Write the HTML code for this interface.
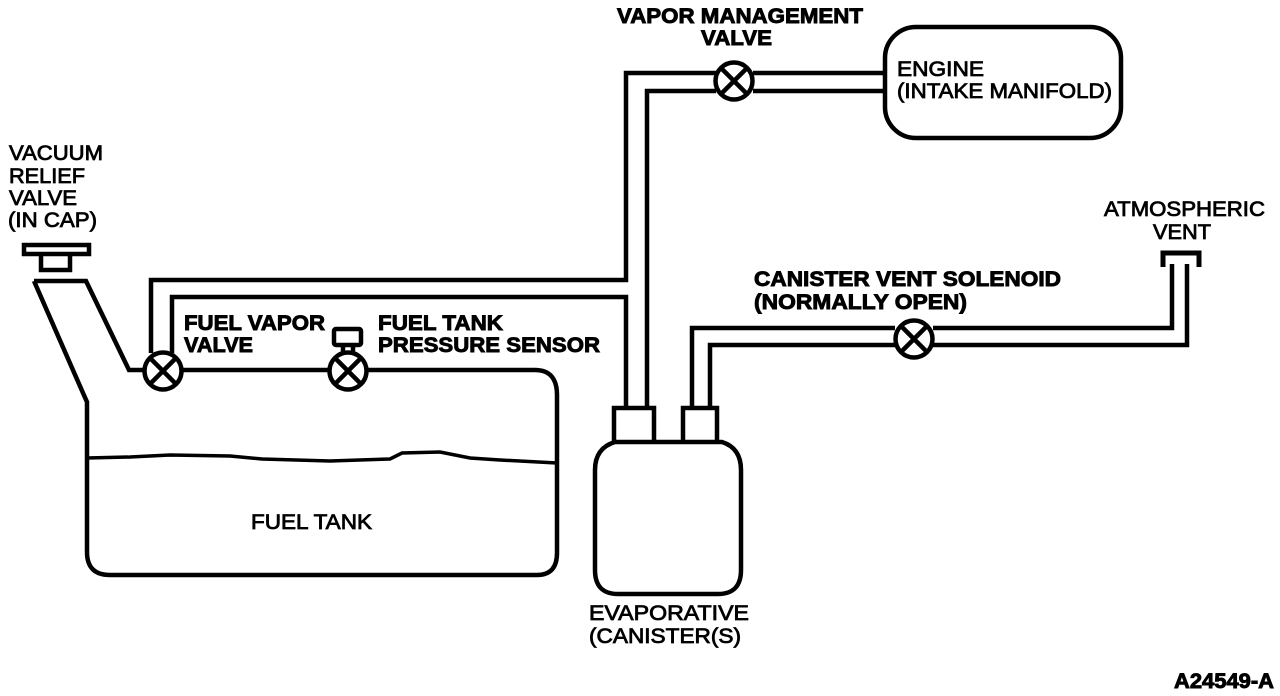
<!DOCTYPE html>
<html><head><meta charset="utf-8"><style>
html,body{margin:0;padding:0;background:#fff;width:1280px;height:696px;overflow:hidden}
svg{display:block}
text{font-family:"Liberation Sans",sans-serif;font-size:21px;fill:#000;stroke:#000;stroke-width:.8px}
.b{font-weight:bold;stroke-width:.9px}
</style></head><body>
<svg width="1280" height="696" viewBox="0 0 1280 696" xmlns="http://www.w3.org/2000/svg">
<g fill="none" stroke="#000" stroke-width="4.5">
<path d="M24 245H89V254H24Z" stroke-width="4.5"/>
<path d="M41 255V270H70V255"/>
<path d="M34 281H86L129 370H145"/>
<path d="M34 281L83 393L87 402V552Q87 575 110 575H537Q557 575 557 553V395Q557 370 535 370H368"/>
<path d="M87 458L130 457L170 455L230 456L262 459L330 461L390 459L402 453L440 452L470 458L500 460L557 463" stroke-width="3.5"/>
<path d="M151 353V280H626V73H716"/>
<path d="M172 353V297H626V408" />
<path d="M647 408V91H716"/>
<path d="M753 73H886"/>
<path d="M753 91H886"/>
<path d="M181 370H329"/>
<rect x="885" y="27" width="236" height="111" rx="31" ry="31"/>
<path d="M614 442V408H654V442"/>
<path d="M683 442V408H717V442"/>
<path d="M615 442H722Q741 448 741 470V570Q741 594 718 594H618Q595 594 595 570V470Q595 448 615 442Z"/>
<path d="M692 408V328H895"/>
<path d="M710 408V345H895"/>
<path d="M933 328H1172V264"/>
<path d="M933 345H1187V264"/>
<path d="M1163 267V253H1199V267" stroke-width="5"/>
<rect x="334" y="329" width="27" height="16" rx="2"/>
<path d="M343 345V354M353 345V354"/>
<circle cx="163" cy="371" r="18.5"/><path d="M151 359L175 383M175 359L151 383"/>
<circle cx="348" cy="371" r="18.5"/><path d="M336 359L360 383M360 359L336 383"/>
<circle cx="734" cy="81" r="18.5"/><path d="M722 69L746 93M746 69L722 93"/>
<circle cx="914" cy="339" r="18.5"/><path d="M902 327L926 351M926 327L902 351"/>
</g>
<text x="9" y="160" textLength="94" lengthAdjust="spacingAndGlyphs">VACUUM</text>
<text x="9" y="183" textLength="76" lengthAdjust="spacingAndGlyphs">RELIEF</text>
<text x="9" y="205" textLength="68" lengthAdjust="spacingAndGlyphs">VALVE</text>
<text x="8" y="227" textLength="89" lengthAdjust="spacingAndGlyphs">(IN CAP)</text>
<text class="b" x="617" y="23" textLength="246" lengthAdjust="spacingAndGlyphs">VAPOR MANAGEMENT</text>
<text class="b" x="701" y="45" textLength="71" lengthAdjust="spacingAndGlyphs">VALVE</text>
<text x="897" y="76" textLength="87" lengthAdjust="spacingAndGlyphs">ENGINE</text>
<text x="897" y="98" textLength="215" lengthAdjust="spacingAndGlyphs">(INTAKE MANIFOLD)</text>
<text x="1104" y="216" textLength="161" lengthAdjust="spacingAndGlyphs">ATMOSPHERIC</text>
<text x="1153" y="239" textLength="58" lengthAdjust="spacingAndGlyphs">VENT</text>
<text class="b" x="754" y="286" textLength="307" lengthAdjust="spacingAndGlyphs">CANISTER VENT SOLENOID</text>
<text class="b" x="754" y="309" textLength="213" lengthAdjust="spacingAndGlyphs">(NORMALLY OPEN)</text>
<text class="b" x="184" y="330" textLength="141" lengthAdjust="spacingAndGlyphs">FUEL VAPOR</text>
<text class="b" x="184" y="352" textLength="69" lengthAdjust="spacingAndGlyphs">VALVE</text>
<text class="b" x="378" y="330" textLength="125" lengthAdjust="spacingAndGlyphs">FUEL TANK</text>
<text class="b" x="378" y="352" textLength="222" lengthAdjust="spacingAndGlyphs">PRESSURE SENSOR</text>
<text x="251" y="529" textLength="121" lengthAdjust="spacingAndGlyphs">FUEL TANK</text>
<text x="589" y="620" textLength="160" lengthAdjust="spacingAndGlyphs">EVAPORATIVE</text>
<text x="589" y="643" textLength="152" lengthAdjust="spacingAndGlyphs">(CANISTER(S)</text>
<text class="b" x="1174" y="688" textLength="100" lengthAdjust="spacingAndGlyphs">A24549-A</text>
</svg>
</body></html>
